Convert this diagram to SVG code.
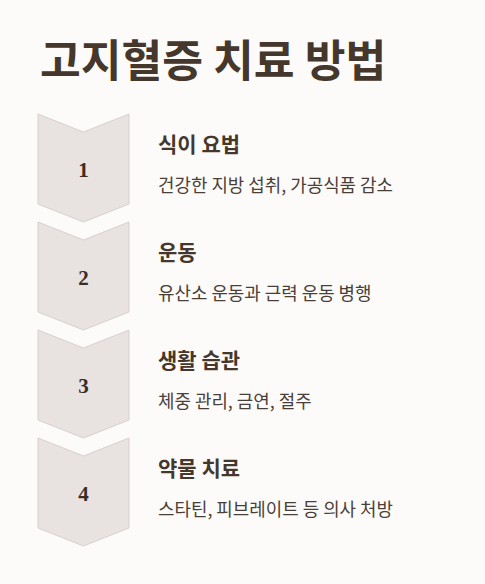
<svg xmlns="http://www.w3.org/2000/svg" width="485" height="584" viewBox="0 0 485 584">
<style>
.bg{fill:#fdfbf9}
.chev{fill:#e8e2e1;stroke:#d8d0ce;stroke-width:1}
.title{font-family:"Noto Sans CJK KR","Noto Sans",sans-serif;font-weight:700;font-size:44.3px;fill:#45372b}
.num{font-family:"Liberation Serif","DejaVu Serif",serif;font-weight:700;font-size:21px;fill:#3a2d25;text-anchor:middle}
.head{font-family:"Noto Sans CJK KR","Noto Sans",sans-serif;font-weight:700;font-size:21px;fill:#45372b}
.sub{font-family:"Noto Sans CJK KR","Noto Sans",sans-serif;font-weight:400;font-size:17.9px;fill:#4a3f38}
</style>
<defs>
<path id="chevron" d="M0,0 L45.5,18 L91,0 L91,90 L45.5,108 L0,90 Z"/>
</defs>
<rect class="bg" x="0" y="0" width="485" height="584"/>
<text class="title" x="40" y="77">고지혈증 치료 방법</text>
<g id="connectors"></g>
<g id="step1">
<use href="#chevron" class="chev" x="38" y="114"/>
<text class="num" x="83.5" y="177">1</text>
<text class="head" x="158" y="152">식이 요법</text>
<text class="sub" x="158" y="192">건강한 지방 섭취, 가공식품 감소</text>
</g>
<g id="step2">
<use href="#chevron" class="chev" x="38" y="222"/>
<text class="num" x="83.5" y="285">2</text>
<text class="head" x="158" y="260">운동</text>
<text class="sub" x="158" y="300">유산소 운동과 근력 운동 병행</text>
</g>
<g id="step3">
<use href="#chevron" class="chev" x="38" y="330"/>
<text class="num" x="83.5" y="393">3</text>
<text class="head" x="158" y="368">생활 습관</text>
<text class="sub" x="158" y="408">체중 관리, 금연, 절주</text>
</g>
<g id="step4">
<use href="#chevron" class="chev" x="38" y="438"/>
<text class="num" x="83.5" y="501">4</text>
<text class="head" x="158" y="476">약물 치료</text>
<text class="sub" x="158" y="516">스타틴, 피브레이트 등 의사 처방</text>
</g>
</svg>
